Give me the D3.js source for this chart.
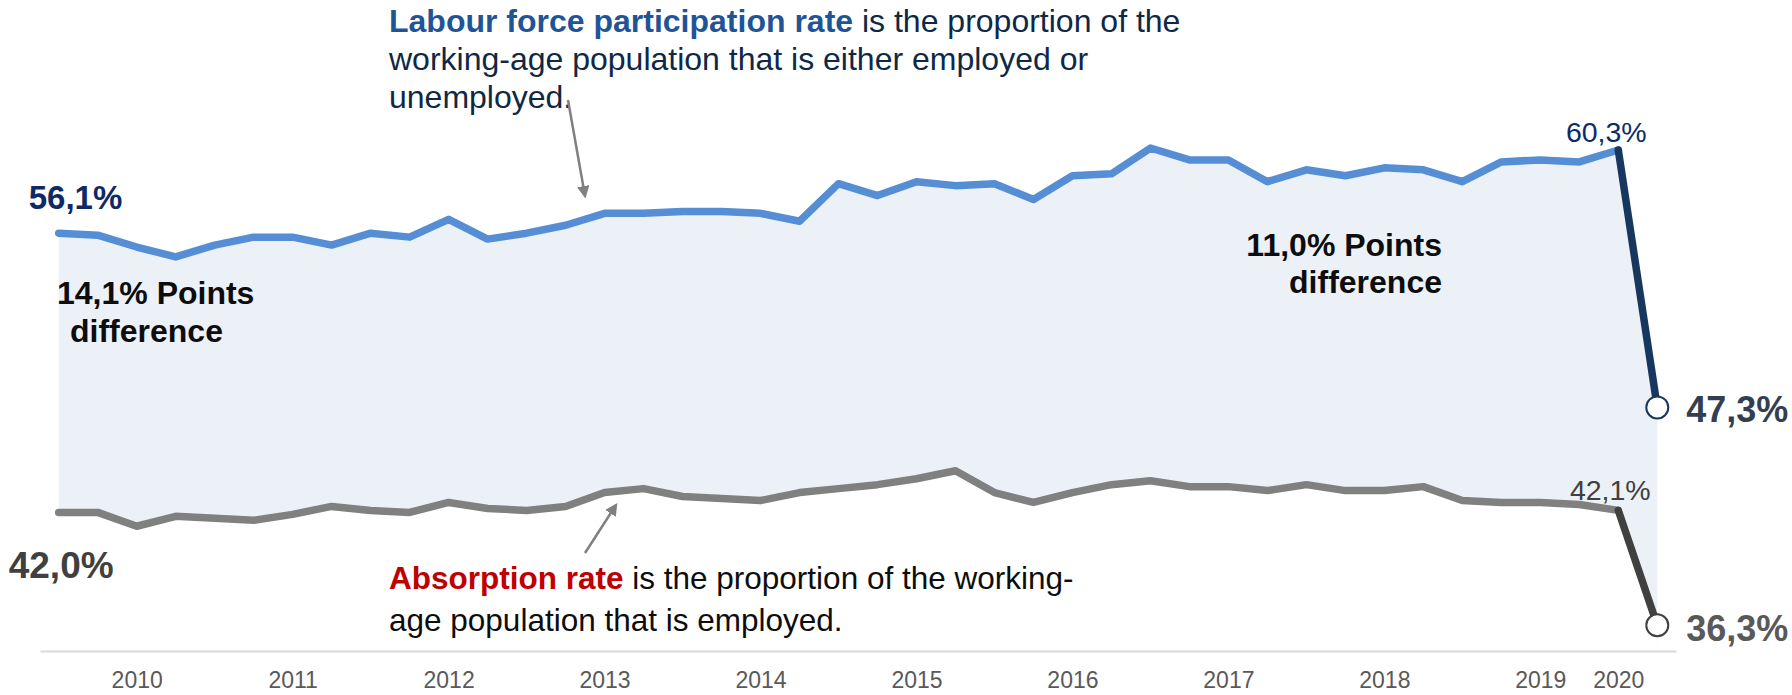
<!DOCTYPE html>
<html><head><meta charset="utf-8">
<script src="https://cdn.jsdelivr.net/npm/d3@7"></script>
<style>
body{margin:0;background:#fff}
svg{display:block}
text{font-family:"Liberation Sans",Arial,sans-serif}
</style>
</head><body>
<svg id="chart" width="1792" height="695"></svg>
<script>
// ---- data ----
const years = d3.range(2010, 2021);
const quarters = [];
years.forEach(yr => { for (let q = 1; q <= 4; q++) { if (yr === 2020 && q > 2) break; quarters.push(yr + "Q" + q); } });

const participation = [56.1, 56.0, 55.4, 54.9, 55.5, 55.9, 55.9, 55.5, 56.1, 55.9,
  56.8, 55.8, 56.1, 56.5, 57.1, 57.1, 57.2, 57.2, 57.1, 56.7,
  58.6, 58.0, 58.7, 58.5, 58.6, 57.8, 59.0, 59.1, 60.4, 59.8,
  59.8, 58.7, 59.3, 59.0, 59.4, 59.3, 58.7, 59.7, 59.8, 59.7,
  60.3, 47.3];
const absorption = [42.0, 42.0, 41.3, 41.8, 41.7, 41.6, 41.9, 42.3, 42.1, 42.0,
  42.5, 42.2, 42.1, 42.3, 43.0, 43.2, 42.8, 42.7, 42.6, 43.0,
  43.2, 43.4, 43.7, 44.1, 43.0, 42.5, 43.0, 43.4, 43.6, 43.3,
  43.3, 43.1, 43.4, 43.1, 43.1, 43.3, 42.6, 42.5, 42.5, 42.4,
  42.1, 36.3];
const tickQuarters = ["2010Q3","2011Q3","2012Q3","2013Q3","2014Q3","2015Q3","2016Q3","2017Q3","2018Q3","2019Q3","2020Q1"];
const tickLabels = ["2010","2011","2012","2013","2014","2015","2016","2017","2018","2019","2020"];

// ---- scales ----
const svg = d3.select("#chart");
const x = d3.scalePoint().domain(quarters).range([40, 1676]).padding(0.48);
const y = d3.scaleLinear().domain([35, 60.3]).range([651, 150]);

const n = quarters.length;
const partData = quarters.map((q, i) => ({q, v: participation[i]}));
const absData = quarters.map((q, i) => ({q, v: absorption[i]}));

// areas
const area = d3.area().x(d => x(d.q)).y0(y(35)).y1(d => y(d.v));
svg.append("path").datum(partData).attr("d", area).attr("fill", "#ECF1F8");
svg.append("path").datum(absData).attr("d", area).attr("fill", "#ffffff");

// axis
const axis = d3.axisBottom(x).tickValues(tickQuarters)
  .tickFormat(d => tickLabels[tickQuarters.indexOf(d)])
  .tickSize(0).tickSizeOuter(0).tickPadding(21);
const gx = svg.append("g").attr("transform", `translate(0,${y(35)})`).call(axis);
gx.select(".domain").attr("stroke", "#D9D9D9").attr("stroke-width", 2);
gx.selectAll("text").attr("fill", "#595959").attr("font-size", 23)
  .style("font-family", '"Liberation Sans",Arial,sans-serif');

// lines
const line = d3.line().x(d => x(d.q)).y(d => y(d.v));
function drawLine(data, color, w) {
  svg.append("path").datum(data).attr("d", line).attr("fill", "none")
    .attr("stroke", color).attr("stroke-width", w)
    .attr("stroke-linejoin", "round").attr("stroke-linecap", "round");
}
drawLine(partData.slice(0, n - 1), "#558ED5", 7.5);
drawLine(partData.slice(n - 2), "#17375E", 7.5);
drawLine(absData.slice(0, n - 1), "#808080", 7.5);
drawLine(absData.slice(n - 2), "#404040", 7.5);

// end circles
svg.append("circle").attr("cx", x(quarters[n-1])).attr("cy", y(participation[n-1])).attr("r", 11)
  .attr("fill", "#fff").attr("stroke", "#17375E").attr("stroke-width", 2);
svg.append("circle").attr("cx", x(quarters[n-1])).attr("cy", y(absorption[n-1])).attr("r", 11)
  .attr("fill", "#fff").attr("stroke", "#404040").attr("stroke-width", 2);

// value labels
const fmt = v => d3.format(".1f")(v).replace(".", ",") + "%";
function label(txt, xx, yy, opts) {
  return svg.append("text").attr("x", xx).attr("y", yy).text(txt)
    .attr("font-size", opts.size).attr("font-weight", opts.bold ? "bold" : "normal")
    .attr("fill", opts.color).attr("text-anchor", opts.anchor || "start");
}
label(fmt(participation[0]), x(quarters[0]) - 30, y(participation[0]) - 24, {size: 33, bold: true, color: "#0E2A66"});
label(fmt(absorption[0]), x(quarters[0]) - 50, y(absorption[0]) + 66, {size: 37, bold: true, color: "#404040"});
label(fmt(participation[n-2]), x(quarters[n-2]) - 12, y(participation[n-2]) - 8, {size: 28.5, color: "#0E2A66", anchor: "middle"});
label(fmt(absorption[n-2]), x(quarters[n-2]) - 8, y(absorption[n-2]) - 10, {size: 28.5, color: "#404040", anchor: "middle"});
label(fmt(participation[n-1]), x(quarters[n-1]) + 29, y(participation[n-1]) + 15, {size: 36, bold: true, color: "#333F50"});
label(fmt(absorption[n-1]), x(quarters[n-1]) + 29, y(absorption[n-1]) + 16, {size: 36, bold: true, color: "#595959"});

// difference annotations
const diffStart = d3.format(".1f")(participation[0] - absorption[0]).replace(".", ",");
const diffEnd = d3.format(".1f")(participation[n-1] - absorption[n-1]).replace(".", ",");
label(diffStart + "% Points", 57, 304, {size: 32, bold: true, color: "#0D0D0D"});
label("difference", 70, 342, {size: 32, bold: true, color: "#0D0D0D"});
label(diffEnd + "% Points", 1442, 256, {size: 32, bold: true, color: "#0D0D0D", anchor: "end"});
label("difference", 1442, 293, {size: 32, bold: true, color: "#0D0D0D", anchor: "end"});

// top annotation
const topNote = svg.append("text").attr("x", 389).attr("y", 32).attr("font-size", 32).attr("fill", "#0E2846");
topNote.append("tspan").attr("font-weight", "bold").attr("fill", "#1F5597").text("Labour force participation rate");
topNote.append("tspan").text(" is the proportion of the");
svg.append("text").attr("x", 389).attr("y", 70).attr("font-size", 32).attr("fill", "#0E2846")
  .text("working-age population that is either employed or");
svg.append("text").attr("x", 389).attr("y", 108).attr("font-size", 32).attr("fill", "#0E2846")
  .text("unemployed.");

// bottom annotation
const botNote = svg.append("text").attr("x", 389).attr("y", 589).attr("font-size", 31.5).attr("fill", "#0D0D0D");
botNote.append("tspan").attr("font-weight", "bold").attr("fill", "#C00000").text("Absorption rate");
botNote.append("tspan").text(" is the proportion of the working-");
svg.append("text").attr("x", 389).attr("y", 631).attr("font-size", 31.5).attr("fill", "#0D0D0D")
  .text("age population that is employed.");

// arrows
const defs = svg.append("defs");
defs.append("marker").attr("id", "ah").attr("viewBox", "0 0 10 10").attr("refX", 8).attr("refY", 5)
  .attr("markerWidth", 5).attr("markerHeight", 5).attr("orient", "auto")
  .append("path").attr("d", "M0,0L10,5L0,10Z").attr("fill", "#808080");
svg.append("line").attr("x1", 568).attr("y1", 100).attr("x2", 585).attr("y2", 196)
  .attr("stroke", "#808080").attr("stroke-width", 2.5).attr("marker-end", "url(#ah)");
svg.append("line").attr("x1", 585).attr("y1", 553).attr("x2", 616).attr("y2", 505)
  .attr("stroke", "#808080").attr("stroke-width", 2.5).attr("marker-end", "url(#ah)");
</script>
</body></html>
